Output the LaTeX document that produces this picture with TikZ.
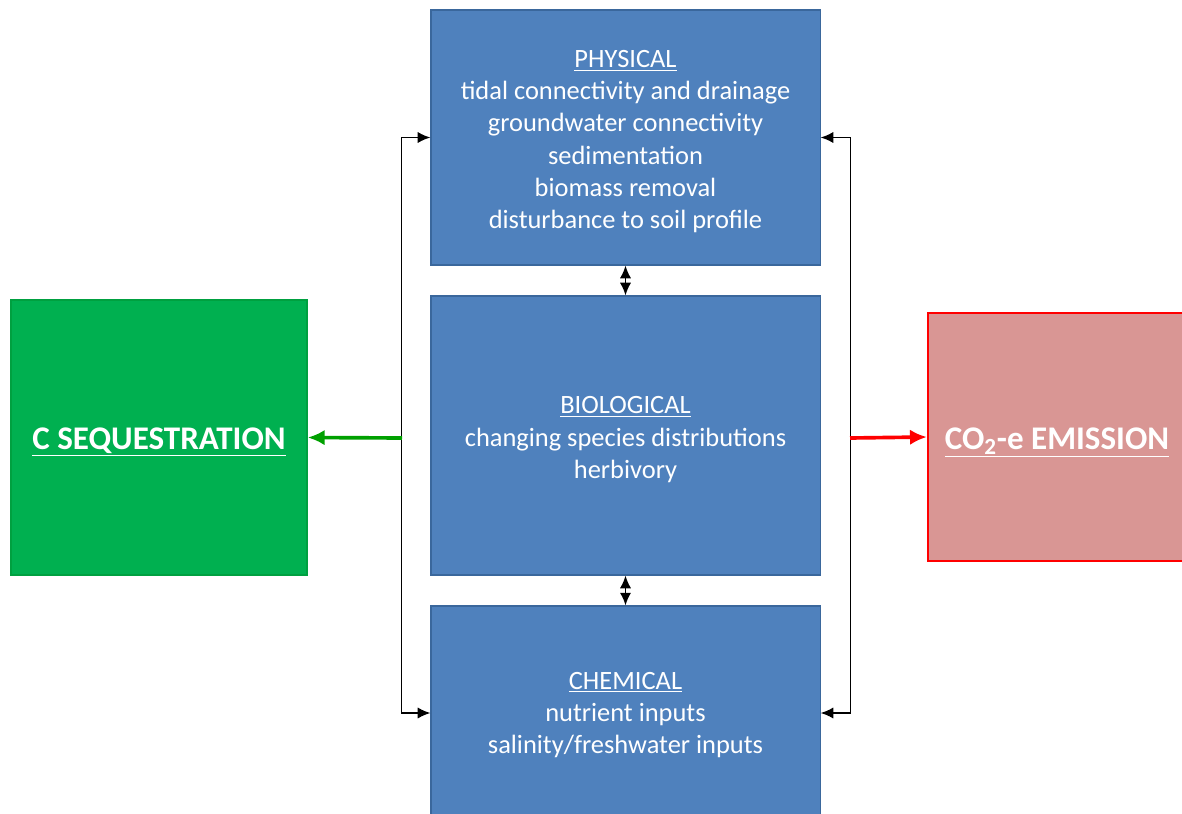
\documentclass[tikz,border=0pt]{standalone}
\usepackage{fontspec}
\setmainfont{Carlito}
\usepackage{tikz}
\usetikzlibrary{arrows.meta}

\definecolor{boxblue}{HTML}{4F81BD}
\definecolor{edgeblue}{HTML}{3A679C}
\definecolor{seqgreen}{HTML}{00B050}
\definecolor{edgegreen}{HTML}{00A040}
\definecolor{emirose}{HTML}{D99694}
\definecolor{arrgreen}{HTML}{00A000}
% taller first line, pushes the text block a little down
\newcommand{\topstrut}[1]{\rule{0pt}{#1}}

\begin{document}
\begin{tikzpicture}[>={Latex[length=9pt,width=8pt]},x=0.025cm,y=-0.025cm,
	factor/.style={rectangle,draw=edgeblue,line width=0.8pt,fill=boxblue,text=white,
		align=center,minimum width=9.725cm,font=\fontsize{18.8}{22.8}\selectfont},
	outcome/.style={rectangle,text=white,align=center,font=\fontsize{23.5}{28}\selectfont\bfseries}]
	\clip (0,0) rectangle (1182,814);
	\node[factor,minimum height=6.375cm] (PH) at (625.5,137.5) {\topstrut{18pt}\underline{PHYSICAL}\\tidal connectivity and drainage\\groundwater connectivity\\sedimentation\\biomass removal\\disturbance to soil profile};
	\node[factor,minimum height=6.975cm] (BI) at (625.5,435.5) {\topstrut{18pt}\underline{BIOLOGICAL}\\changing species distributions\\herbivory};
	\node[factor,minimum height=5.35cm] (CH) at (625.5,713) {\topstrut{15pt}\underline{CHEMICAL}\\nutrient inputs\\salinity/freshwater inputs};
	\node[outcome,draw=edgegreen,line width=1pt,fill=seqgreen,minimum width=7.4cm,minimum height=6.875cm] (CS) at (159,437.5) {\topstrut{22pt}\underline{C SEQUESTRATION}};
	\node[outcome,draw=red,line width=1.6pt,fill=emirose,minimum width=6.45cm,minimum height=6.2cm] (CE) at (1057,437) {\topstrut{23pt}\underline{CO\textsubscript{2}-e EMISSION}};

	\coordinate (LS) at (402,438);
	\coordinate (RS) at (850,438);

	\draw[<->,line width=1.2pt] (PH.west) -- ++(-29,0) |- (CH.west);
	\draw[<->,line width=1.2pt] (PH.east) -- ++(30,0) |- (CH.east);
	\draw[<->,line width=1.2pt] (PH.south) -- (BI.north);
	\draw[<->,line width=1.2pt] (BI.south) -- (CH.north);
	\draw[-{Latex[length=12pt,width=11pt]},arrgreen,line width=2.6pt] (LS) -- (CS.east);
	\draw[-{Latex[length=12pt,width=11pt]},red,line width=2.6pt] (RS) -- (CE.west);
\end{tikzpicture}
\end{document}
